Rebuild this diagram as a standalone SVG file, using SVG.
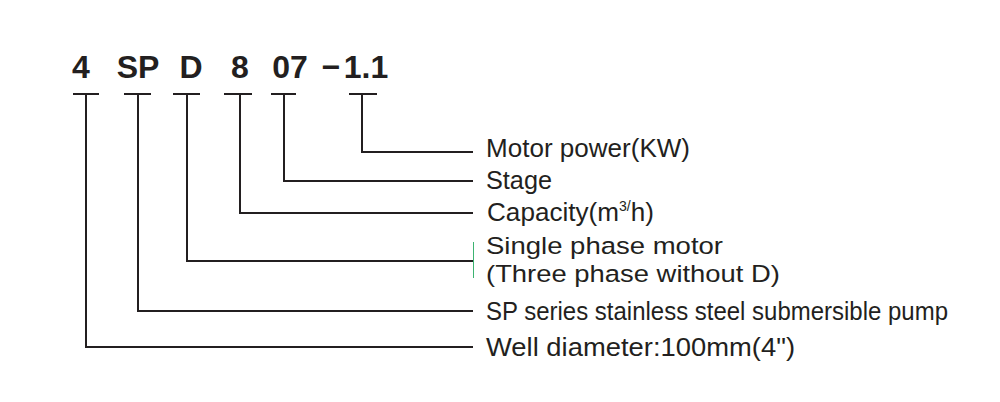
<svg xmlns="http://www.w3.org/2000/svg" width="1000" height="402" viewBox="0 0 1000 402">
<style>
.code{font-family:"Liberation Sans",Arial,sans-serif;font-weight:bold;font-size:32px;fill:#231f20;text-anchor:middle}
.lbl{font-family:"Liberation Sans",Arial,sans-serif;font-size:26px;fill:#231f20}
.ln{fill:none;stroke:#231f20;stroke-width:2;stroke-linejoin:miter;stroke-linecap:butt}
</style>
<rect width="1000" height="402" fill="#ffffff"/>
<g id="code-4"><text class="code" x="81" y="78">4</text></g>
<g id="code-SP"><text class="code" x="138" y="78">SP</text></g>
<g id="code-D"><text class="code" x="191" y="78">D</text></g>
<g id="code-8"><text class="code" x="240" y="78">8</text></g>
<g id="code-07"><text class="code" x="290" y="78">07</text></g>
<g id="code-dash"><text class="code" x="331" y="78">−</text></g>
<g id="code-1.1"><text class="code" x="366" y="78">1.1</text></g>

<g id="connectors">
<path class="ln" d="M73 94H99M86 94V347H473"/>
<path class="ln" d="M124 94H151M138 94V311H473"/>
<path class="ln" d="M173 94H200M187 94V261H473"/>
<path class="ln" d="M224 94H252M240 94V213H473"/>
<path class="ln" d="M271 94H296M284 94V181H473"/>
<path class="ln" d="M349 94H377M362 94V152H473"/>
<line x1="473.5" y1="242" x2="473.5" y2="278" stroke="#3cb371" stroke-width="1"/>
</g>

<g id="label-motor"><text class="lbl" x="486" y="157" textLength="204" lengthAdjust="spacingAndGlyphs">Motor power(KW)</text></g>
<g id="label-stage"><text class="lbl" x="486" y="189" textLength="66" lengthAdjust="spacingAndGlyphs">Stage</text></g>
<g id="label-capacity"><text class="lbl" x="487" y="221" textLength="167" lengthAdjust="spacingAndGlyphs">Capacity(m<tspan font-size="14" dy="-10">3/</tspan><tspan dy="10">h)</tspan></text></g>
<g id="label-phase"><text class="lbl" x="486" y="254" font-size="24.5" style="font-size:24.5px" textLength="237" lengthAdjust="spacingAndGlyphs">Single phase motor</text><text class="lbl" x="486" y="282" style="font-size:24.5px" textLength="294" lengthAdjust="spacingAndGlyphs">(Three phase without D)</text></g>
<g id="label-sp"><text class="lbl" x="486" y="320" textLength="462" lengthAdjust="spacingAndGlyphs">SP series stainless steel submersible pump</text></g>
<g id="label-well"><text class="lbl" x="486" y="356" textLength="309" lengthAdjust="spacingAndGlyphs">Well diameter:100mm(4")</text></g>
</svg>
